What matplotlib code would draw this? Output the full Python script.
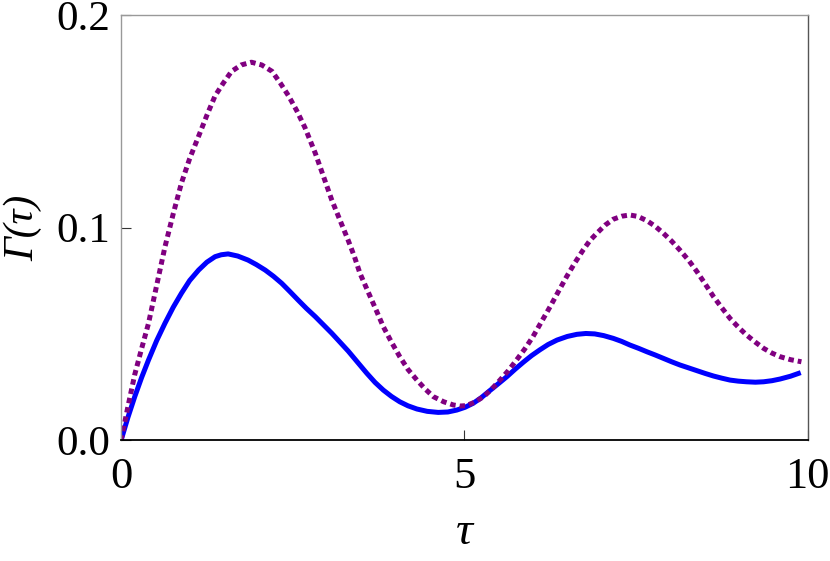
import matplotlib
matplotlib.use("Agg")
import matplotlib.pyplot as plt

# values
tau_solid = [0, 0.1, 0.2, 0.3, 0.4, 0.52, 0.64, 0.76, 0.88, 1.0, 1.13, 1.25, 1.37,
             1.46, 1.56, 1.7, 1.85, 1.97, 2.1, 2.22, 2.34, 2.46, 2.58, 2.7, 2.83,
             2.95, 3.07, 3.19, 3.31, 3.45, 3.58, 3.7, 3.82, 3.94, 4.06, 4.18, 4.31,
             4.46, 4.62, 4.76, 4.89, 5.01, 5.13, 5.25, 5.37, 5.5, 5.62, 5.74, 5.86,
             5.98, 6.1, 6.22, 6.35, 6.5, 6.64, 6.77, 6.9, 7.03, 7.17, 7.29, 7.41,
             7.54, 7.66, 7.78, 7.9, 8.02, 8.14, 8.27, 8.39, 8.51, 8.63, 8.75, 8.87,
             8.99, 9.11, 9.24, 9.36, 9.48, 9.6, 9.75, 9.9]
gamma_solid = [0, 0.0108, 0.0206, 0.0296, 0.0378, 0.047, 0.0551, 0.0626, 0.0692,
               0.0752, 0.0801, 0.0838, 0.0864, 0.0873, 0.0877, 0.0867, 0.0848, 0.0827,
               0.0801, 0.0772, 0.0739, 0.07, 0.066, 0.0621, 0.0582, 0.0543, 0.0504,
               0.0462, 0.042, 0.0366, 0.0316, 0.0273, 0.0237, 0.0207, 0.0182, 0.0163,
               0.0148, 0.0137, 0.0132, 0.0134, 0.0143, 0.0156, 0.0175, 0.0202, 0.0234,
               0.0268, 0.030, 0.0335, 0.0368, 0.0399, 0.0426, 0.0451, 0.0472, 0.0489,
               0.0499, 0.0503, 0.0501, 0.0493, 0.048, 0.0466, 0.0449, 0.0433, 0.0417,
               0.0402, 0.0386, 0.037, 0.0355, 0.0341, 0.0328, 0.0315, 0.0303, 0.0293,
               0.0284, 0.0279, 0.0276, 0.0274, 0.0276, 0.0281, 0.0289, 0.0302, 0.0319]

tau_dot = [0, 0.1, 0.2, 0.3, 0.4, 0.52, 0.64, 0.76, 0.88, 1.0, 1.13, 1.25, 1.37,
           1.49, 1.61, 1.75, 1.9, 2.05, 2.2, 2.32, 2.44, 2.56, 2.68, 2.83, 2.95,
           3.07, 3.19, 3.31, 3.4, 3.48, 3.63, 3.72, 3.82, 3.94, 4.06, 4.18, 4.31,
           4.43, 4.55, 4.7, 4.84, 4.94, 5.03, 5.15, 5.28, 5.4, 5.52, 5.64, 5.76,
           5.88, 6.0, 6.12, 6.25, 6.37, 6.49, 6.61, 6.73, 6.83, 6.93, 7.05, 7.17,
           7.29, 7.41, 7.53, 7.66, 7.78, 7.9, 8.02, 8.14, 8.27, 8.39, 8.51, 8.63,
           8.75, 8.87, 8.99, 9.11, 9.24, 9.36, 9.48, 9.6, 9.75, 9.91]
gamma_dot = [0, 0.0158, 0.031, 0.0432, 0.055, 0.073, 0.091, 0.1065, 0.121, 0.1325,
             0.143, 0.1528, 0.162, 0.168, 0.1735, 0.1765, 0.1778, 0.1765, 0.1735,
             0.168, 0.162, 0.155, 0.147, 0.135, 0.124, 0.113, 0.1035, 0.094, 0.0864,
             0.0786, 0.0676, 0.061, 0.0535, 0.0462, 0.0394, 0.0334, 0.0284, 0.0242,
             0.0206, 0.0182, 0.0167, 0.0162, 0.0164, 0.018, 0.0206, 0.0242, 0.0284,
             0.0328, 0.0378, 0.043, 0.0488, 0.0556, 0.0629, 0.070, 0.077, 0.0835,
             0.0895, 0.094, 0.0974, 0.1012, 0.104, 0.1054, 0.106, 0.1053, 0.1033,
             0.1007, 0.0974, 0.0937, 0.0895, 0.0846, 0.0793, 0.0735, 0.0676, 0.0624,
             0.0574, 0.0533, 0.0496, 0.0462, 0.0433, 0.0411, 0.0394, 0.038, 0.037]

xticks = [0, 5, 10]
yticks = [0.0, 0.1, 0.2]
yticklabels = ["0.0", "0.1", "0.2"]

plt.rcParams["font.family"] = ["Liberation Serif", "DejaVu Serif"]

fig = plt.figure(figsize=(8.3, 5.61), dpi=100)
ax = fig.add_axes([0.1458, 0.2148, 0.8272, 0.7585])

ax.plot(tau_solid, gamma_solid, color="#0000ff", lw=3.6, solid_capstyle="butt",
        solid_joinstyle="round")
ax.plot(tau_dot, gamma_dot, color="#800080", lw=3.6, dashes=(1.1, 0.8),
        dash_capstyle="butt")

ax.set_xlim(0, 10)
ax.set_ylim(0, 0.2)
ax.set_xticks(xticks)
ax.set_xticklabels([str(t) for t in xticks])
ax.set_yticks(yticks)
ax.set_yticklabels(yticklabels)

for side in ["left", "top", "right"]:
    ax.spines[side].set_color("#999999")
    ax.spines[side].set_linewidth(1.0)
ax.spines["right"].set_color("#555555")
ax.spines["bottom"].set_color("black")
ax.spines["bottom"].set_linewidth(1.3)

ax.tick_params(axis="x", direction="in", length=7, width=0.8, color="#333333",
               labelsize=32, pad=12)
ax.tick_params(axis="y", direction="in", length=7, width=0.8, color="#333333",
               labelsize=31, pad=8)

ax.set_xlabel("τ", fontsize=34, fontstyle="italic", labelpad=10)
ax.set_ylabel("Γ(τ)", fontsize=30, fontstyle="italic", labelpad=10)

fig.savefig("out.png", dpi=100)
